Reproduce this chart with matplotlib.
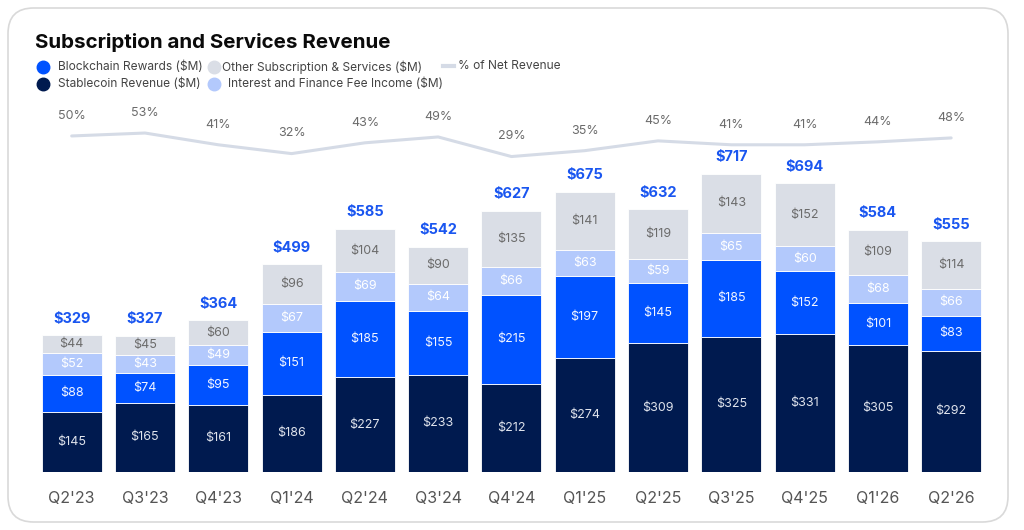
import matplotlib
matplotlib.use("Agg")
import matplotlib.pyplot as plt
import numpy as np
from matplotlib.lines import Line2D
from matplotlib.patches import FancyBboxPatch

plt.rcParams['font.family'] = ['Inter', 'DejaVu Sans']

quarters = ["Q2'23", "Q3'23", "Q4'23", "Q1'24", "Q2'24", "Q3'24", "Q4'24",
            "Q1'25", "Q2'25", "Q3'25", "Q4'25", "Q1'26", "Q2'26"]
stablecoin = [145, 165, 161, 186, 227, 233, 212, 274, 309, 325, 331, 305, 292]
blockchain = [88, 74, 95, 151, 185, 155, 215, 197, 145, 185, 152, 101, 83]
interest = [52, 43, 49, 67, 69, 64, 66, 63, 59, 65, 60, 68, 66]
other = [44, 45, 60, 96, 104, 90, 135, 141, 119, 143, 152, 109, 114]
totals = [329, 327, 364, 499, 585, 542, 627, 675, 632, 717, 694, 584, 555]
pct_net = [50, 53, 41, 32, 43, 49, 29, 35, 45, 41, 41, 44, 48]

C_STABLE = "#001a4f"
C_CHAIN = "#0052ff"
C_INT = "#b3c9fc"
C_OTHER = "#dadee6"
C_LINE = "#d5dbe6"
C_TOTAL = "#1a56f0"

W, H = 1024, 530
fig = plt.figure(figsize=(W / 100, H / 100), dpi=100)

# rounded card border, kept behind the axes
card = FancyBboxPatch((8 / W, 8 / H), 1000 / W, 514 / H,
                      boxstyle="round,pad=0,rounding_size=0.025",
                      transform=fig.transFigure, facecolor="none",
                      edgecolor="#d9d9d9", linewidth=1.2, mutation_aspect=W / H,
                      zorder=-5)
fig.add_artist(card)

ax = fig.add_axes([30 / W, 58.3 / H, 960 / W, 371.7 / H])
ax.set_facecolor("none")
x = np.arange(len(quarters))
bw = 0.82

layers = [(stablecoin, C_STABLE, "#dfe3ec"),
          (blockchain, C_CHAIN, "#f2f5ff"),
          (interest, C_INT, "#ffffff"),
          (other, C_OTHER, "#6b6b6b")]
bottom = np.zeros(len(x))
for vals, col, tcol in layers:
    vals = np.array(vals)
    ax.bar(x, vals, bw, bottom=bottom, color=col, edgecolor="white", linewidth=0.6)
    for xi, b, v in zip(x, bottom, vals):
        ax.text(xi, b + v / 2, f"${v}", ha="center", va="center",
                fontsize=9, color=tcol)
    bottom += vals

for xi, top, t in zip(x, bottom, totals):
    ax.annotate(f"${t}", (xi, top), xytext=(0, 12), textcoords="offset points",
                ha="center", va="center", fontsize=10.5, fontweight="bold",
                color=C_TOTAL)

ax.set_xlim(-0.569, 12.53)
ax.set_ylim(0, 895.7)
ax.set_xticks(x)
ax.set_xticklabels(quarters, fontsize=11.5, color="#555555")
ax.tick_params(axis="x", length=0, pad=14)
ax.set_yticks([])
for s in ax.spines.values():
    s.set_visible(False)

ax2 = ax.twinx()
ax2.set_facecolor("none")
ax2.plot(x, pct_net, color=C_LINE, linewidth=2.2, solid_capstyle="round")
for xi, p in zip(x, pct_net):
    ax2.annotate(f"{p}%", (xi, p), xytext=(0, 14.5), textcoords="offset points",
                 ha="center", va="center", fontsize=9, color="#6b6b6b")
ax2.set_ylim(-292.6, 86.7)
ax2.set_yticks([])
for s in ax2.spines.values():
    s.set_visible(False)

# title and legend
fig.text(35 / W, 1 - 48.3 / H, "Subscription and Services Revenue",
         fontsize=14.8, fontweight="bold", color="#0a0a0a", va="baseline")

legend_items = [
    (43, 67, C_CHAIN, 58, "Blockchain Rewards ($M)"),
    (214, 67, C_OTHER, 222, "Other Subscription & Services ($M)"),
    (43, 84, C_STABLE, 58, "Stablecoin Revenue ($M)"),
    (214, 84, C_INT, 228, "Interest and Finance Fee Income ($M)"),
]
for cx, cy, col, tx, label in legend_items:
    fig.add_artist(Line2D([cx / W], [1 - cy / H], marker="o", markersize=9,
                          color=col, linestyle="none", transform=fig.transFigure))
    fig.text(tx / W, 1 - cy / H, label, fontsize=8.6, color="#444444", va="center")

fig.add_artist(Line2D([443 / W, 454 / W], [1 - 66 / H, 1 - 66 / H], color=C_LINE,
                      linewidth=3, transform=fig.transFigure))
fig.text(458 / W, 1 - 66 / H, "% of Net Revenue", fontsize=8.6, color="#444444",
         va="center")

fig.savefig("out.png", dpi=100, facecolor="white")
